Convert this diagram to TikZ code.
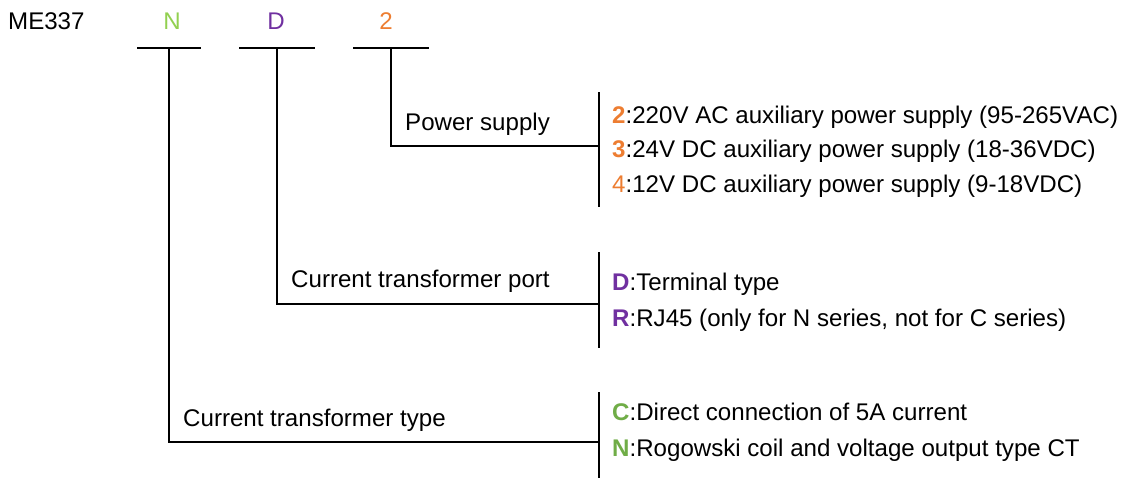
\documentclass[tikz,border=0pt]{standalone}
\usepackage{fontspec}
\setmainfont{Liberation Sans}
\definecolor{cOrange}{HTML}{ED7D31}
\definecolor{cPurple}{HTML}{7030A0}
\definecolor{cLGreen}{HTML}{92D050}
\definecolor{cGreen}{HTML}{70AD47}
\begin{document}
\begin{tikzpicture}[x=1pt,y=-1pt,
  txt/.style={anchor=base west,inner sep=0pt,font=\fontsize{24.1}{28}\selectfont},
  code/.style={anchor=base,inner sep=0pt,font=\fontsize{24.1}{28}\selectfont},
  ln/.style={line width=2pt,black}]
\useasboundingbox (0,0) rectangle (1126,479);
% header
\node[txt] (me) at (8,29) {ME337};
\node[code,text=cLGreen] (cN) at (172,29) {N};
\node[code,text=cPurple] (cD) at (276,29) {D};
\node[code,text=cOrange] (c2) at (386,29) {2};
% underlines
\coordinate (uNl) at (137,47.5); \coordinate (uNr) at (201,47.5); \coordinate (tN) at (169,47.5);
\coordinate (uDl) at (239,47.5); \coordinate (uDr) at (315,47.5); \coordinate (tD) at (277,47.5);
\coordinate (u2l) at (353,47.5); \coordinate (u2r) at (429,47.5); \coordinate (t2) at (391,47.5);
\draw[ln] (uNl) -- (uNr);
\draw[ln] (uDl) -- (uDr);
\draw[ln] (u2l) -- (u2r);
% brackets
\coordinate (b1t) at (599,92); \coordinate (b1b) at (599,207);
\coordinate (b2t) at (599,252); \coordinate (b2b) at (599,348);
\coordinate (b3t) at (599,392); \coordinate (b3b) at (599,478);
\draw[ln] (b1t) -- (b1b);
\draw[ln] (b2t) -- (b2b);
\draw[ln] (b3t) -- (b3b);
% connectors
\coordinate (j2) at (599,146); \coordinate (jD) at (599,303.5); \coordinate (jN) at (599,441.5);
\draw[ln] (t2) |- (j2);
\draw[ln] (tD) |- (jD);
\draw[ln] (tN) |- (jN);
% labels
\node[txt] (lp) at (405,130) {Power supply};
\node[txt] (lport) at (291,287) {Current transformer port};
\node[txt] (ltype) at (183,426) {Current transformer type};
% options
\node[txt] (o2) at (612,123) {\textcolor{cOrange}{\textbf{2}}:220V AC auxiliary power supply (95-265VAC)};
\node[txt] (o3) at (612,157.5) {\textcolor{cOrange}{\textbf{3}}:24V DC auxiliary power supply (18-36VDC)};
\node[txt] (o4) at (612,192) {\textcolor{cOrange}{4}:12V DC auxiliary power supply (9-18VDC)};
\node[txt] (oD) at (612,290.5) {\textcolor{cPurple}{\textbf{D}}:Terminal type};
\node[txt] (oR) at (612,326) {\textcolor{cPurple}{\textbf{R}}:RJ45 (only for N series, not for C series)};
\node[txt] (oC) at (612,420.5) {\textcolor{cGreen}{\textbf{C}}:Direct connection of 5A current};
\node[txt] (oN) at (612,456.5) {\textcolor{cGreen}{\textbf{N}}:Rogowski coil and voltage output type CT};
\end{tikzpicture}
\end{document}
